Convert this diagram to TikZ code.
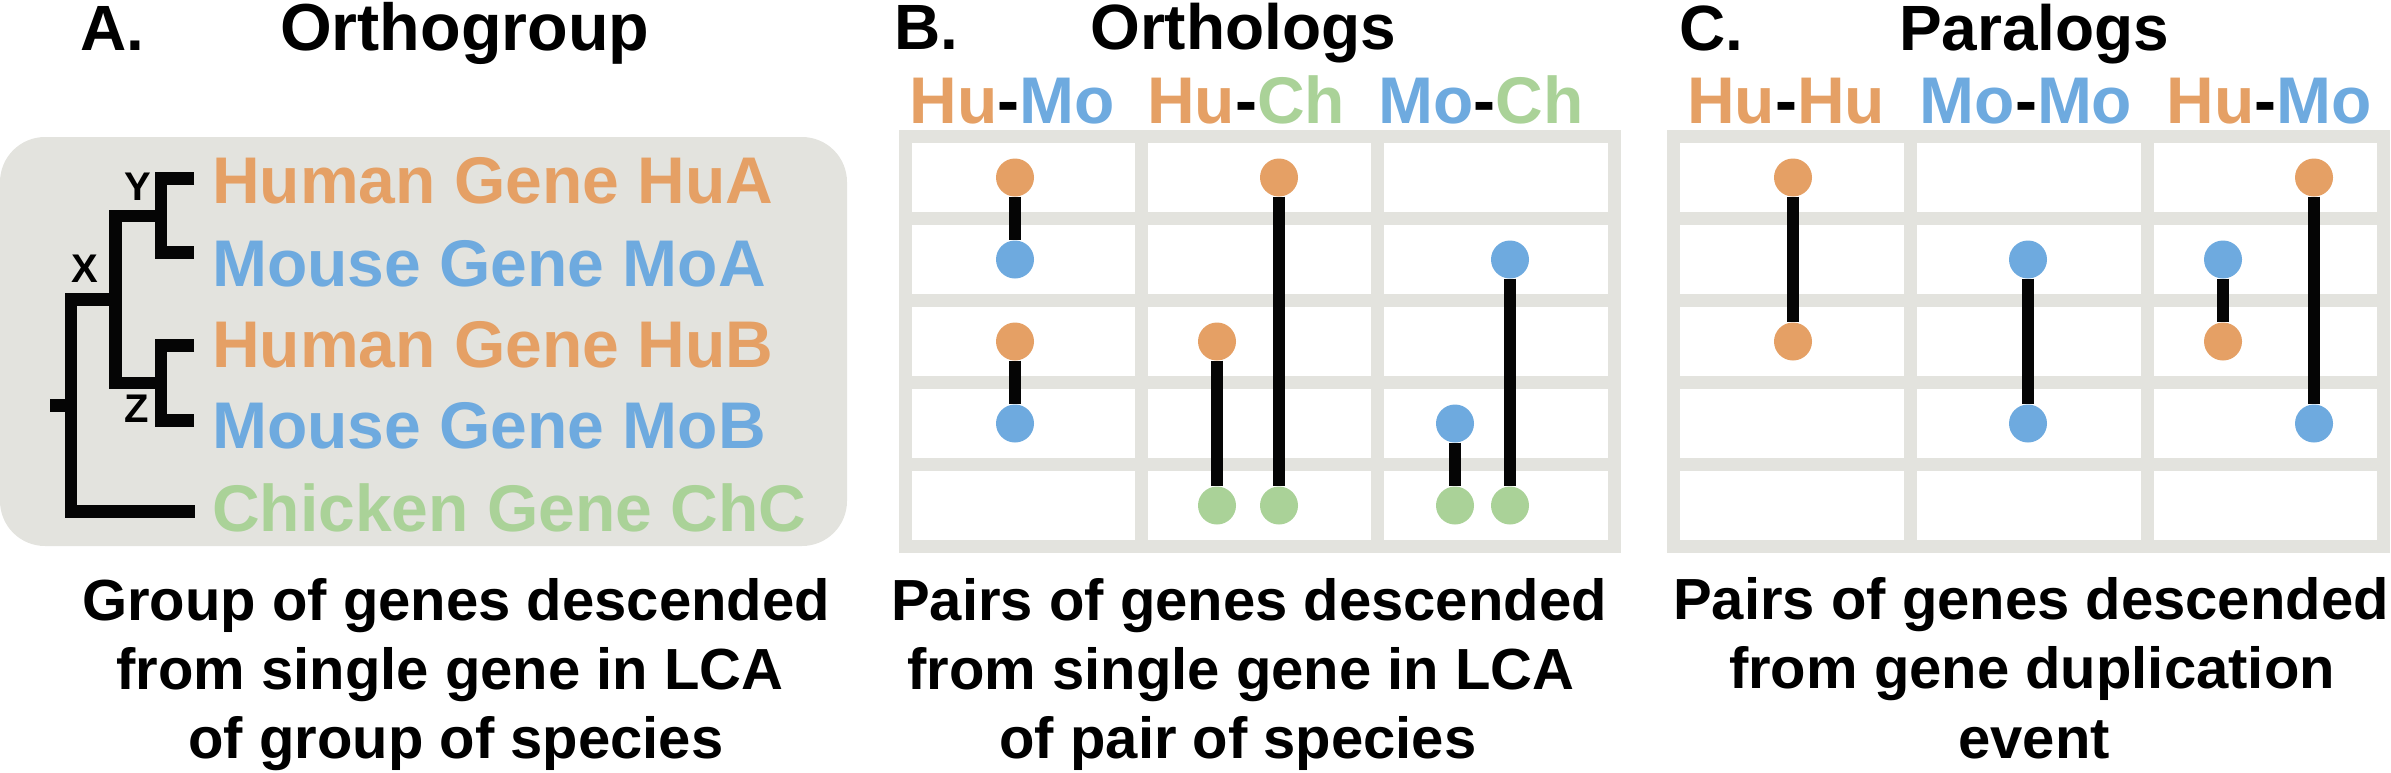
\documentclass[tikz,border=0pt]{standalone}
\usepackage{fontspec}
\setmainfont{Liberation Sans}
\definecolor{cor}{HTML}{E5A065}
\definecolor{cbl}{HTML}{6EAADF}
\definecolor{cgr}{HTML}{AAD298}
\definecolor{cgy}{HTML}{E3E3DE}
\definecolor{cbk}{HTML}{050505}
\newcommand\gnfont{\bfseries\fontsize{66}{72}\selectfont}
\newcommand\ttlfont{\bfseries\fontsize{64}{70}\selectfont}
\newcommand\ttlAfont{\bfseries\fontsize{66.5}{70}\selectfont}
\newcommand\btfont{\bfseries\fontsize{58}{66}\selectfont}
\newcommand\trfont{\bfseries\fontsize{40}{44}\selectfont}
\begin{document}
\begin{tikzpicture}[x=1pt,y=-1pt,
  gene/.style={anchor=base west,inner sep=0pt,font=\gnfont},
  ttl/.style={anchor=base west,inner sep=0pt,font=\ttlfont},
  clab/.style={anchor=base,inner sep=0pt,font=\gnfont},
  btxt/.style={anchor=base,inner sep=0pt,font=\btfont},
  tlab/.style={inner sep=0pt,font=\trfont},
  gdot/.style={circle,minimum size=38pt,inner sep=0pt,fill=#1},
  stem/.style={line width=12pt,draw=cbk},
  tree/.style={line width=12.5pt,draw=cbk,line join=miter},
  cellw/.style={fill=white}]
\useasboundingbox (0,0) rectangle (2391,772);
% titles
\node[ttl] (tA) at (80,50) {A.};
\node[ttl,font=\ttlAfont] (tA2) at (280,50) {Orthogroup};
\node[ttl] (tB) at (894,49) {B.};
\node[ttl] (tB2) at (1090,49) {Orthologs};
\node[ttl] (tC) at (1679,50) {C.};
\node[ttl] (tC2) at (1899,50) {Paralogs};
% panel A
\fill[cgy,rounded corners=45pt] (0,137) rectangle (847,546);
\draw[tree] (194,178.5) -- (161,178.5) -- (161,252.5) -- (194,252.5);
\draw[tree] (161,216) -- (115.5,216) -- (115.5,383) -- (161,383);
\draw[tree] (194,345.5) -- (161,345.5) -- (161,420.5) -- (194,420.5);
\draw[tree] (115.5,299.5) -- (71,299.5) -- (71,511.5) -- (195,511.5);
\draw[tree] (71,405.5) -- (50,405.5);
\node[tlab] (lY) at (138,187) {Y};
\node[tlab] (lX) at (85,269) {X};
\node[tlab] (lZ) at (137,409) {Z};
\node[gene,text=cor] (gHuA) at (212,203) {Human Gene HuA};
\node[gene,text=cbl] (gMoA) at (212,286) {Mouse Gene MoA};
\node[gene,text=cor] (gHuB) at (212,367) {Human Gene HuB};
\node[gene,text=cbl] (gMoB) at (212,448) {Mouse Gene MoB};
\node[gene,text=cgr] (gChC) at (212,531) {Chicken Gene ChC};
% grids
\fill[cgy] (899,130) rectangle (1621,553);
\foreach \xa/\xb in {912/1135,1148/1371,1384/1608}
  \foreach \ya/\yb in {143/212,225/294,307/376,389/458,471/540}
    \fill[cellw] (\xa,\ya) rectangle (\xb,\yb);
\fill[cgy] (1667,130) rectangle (2390,553);
\foreach \xa/\xb in {1680/1904,1917/2141,2154/2377}
  \foreach \ya/\yb in {143/212,225/294,307/376,389/458,471/540}
    \fill[cellw] (\xa,\ya) rectangle (\xb,\yb);
% column labels
\node[clab] (cB1) at (1012,123) {\textcolor{cor}{Hu}-\textcolor{cbl}{Mo}};
\node[clab] (cB2) at (1246,123) {\textcolor{cor}{Hu}-\textcolor{cgr}{Ch}};
\node[clab] (cB3) at (1481,123) {\textcolor{cbl}{Mo}-\textcolor{cgr}{Ch}};
\node[clab] (cC1) at (1786,123) {\textcolor{cor}{Hu}-\textcolor{cor}{Hu}};
\node[clab] (cC2) at (2026,123) {\textcolor{cbl}{Mo}-\textcolor{cbl}{Mo}};
\node[clab] (cC3) at (2269,123) {\textcolor{cor}{Hu}-\textcolor{cbl}{Mo}};
% dots panel B
\node[gdot=cor] (b1) at (1015,177.5) {};
\node[gdot=cbl] (b2) at (1015,259.5) {};
\node[gdot=cor] (b3) at (1015,341.5) {};
\node[gdot=cbl] (b4) at (1015,423.5) {};
\node[gdot=cor] (b5) at (1217,341.5) {};
\node[gdot=cgr] (b6) at (1217,505.5) {};
\node[gdot=cor] (b7) at (1279,177.5) {};
\node[gdot=cgr] (b8) at (1279,505.5) {};
\node[gdot=cbl] (b9) at (1455,423.5) {};
\node[gdot=cgr] (b10) at (1455,505.5) {};
\node[gdot=cbl] (b11) at (1510,259.5) {};
\node[gdot=cgr] (b12) at (1510,505.5) {};
\draw[stem] (b1) -- (b2);
\draw[stem] (b3) -- (b4);
\draw[stem] (b5) -- (b6);
\draw[stem] (b7) -- (b8);
\draw[stem] (b9) -- (b10);
\draw[stem] (b11) -- (b12);
% dots panel C
\node[gdot=cor] (c1) at (1793,177.5) {};
\node[gdot=cor] (c2) at (1793,341.5) {};
\node[gdot=cbl] (c3) at (2028,259.5) {};
\node[gdot=cbl] (c4) at (2028,423.5) {};
\node[gdot=cbl] (c5) at (2223,259.5) {};
\node[gdot=cor] (c6) at (2223,341.5) {};
\node[gdot=cor] (c7) at (2314,177.5) {};
\node[gdot=cbl] (c8) at (2314,423.5) {};
\draw[stem] (c1) -- (c2);
\draw[stem] (c3) -- (c4);
\draw[stem] (c5) -- (c6);
\draw[stem] (c7) -- (c8);
% bottom texts
\node[btxt] (a1) at (456,620) {Group of genes descended};
\node[btxt] (a2) at (450,689) {from single gene in LCA};
\node[btxt] (a3) at (456,758) {of group of species};
\node[btxt] (p1) at (1249,620) {Pairs of genes descended};
\node[btxt] (p2) at (1241,689) {from single gene in LCA};
\node[btxt] (p3) at (1238,758) {of pair of species};
\node[btxt] (q1) at (2031,619) {Pairs of genes descended};
\node[btxt] (q2) at (2032,688) {from gene duplication};
\node[btxt] (q3) at (2034,758) {event};
\end{tikzpicture}
\end{document}
